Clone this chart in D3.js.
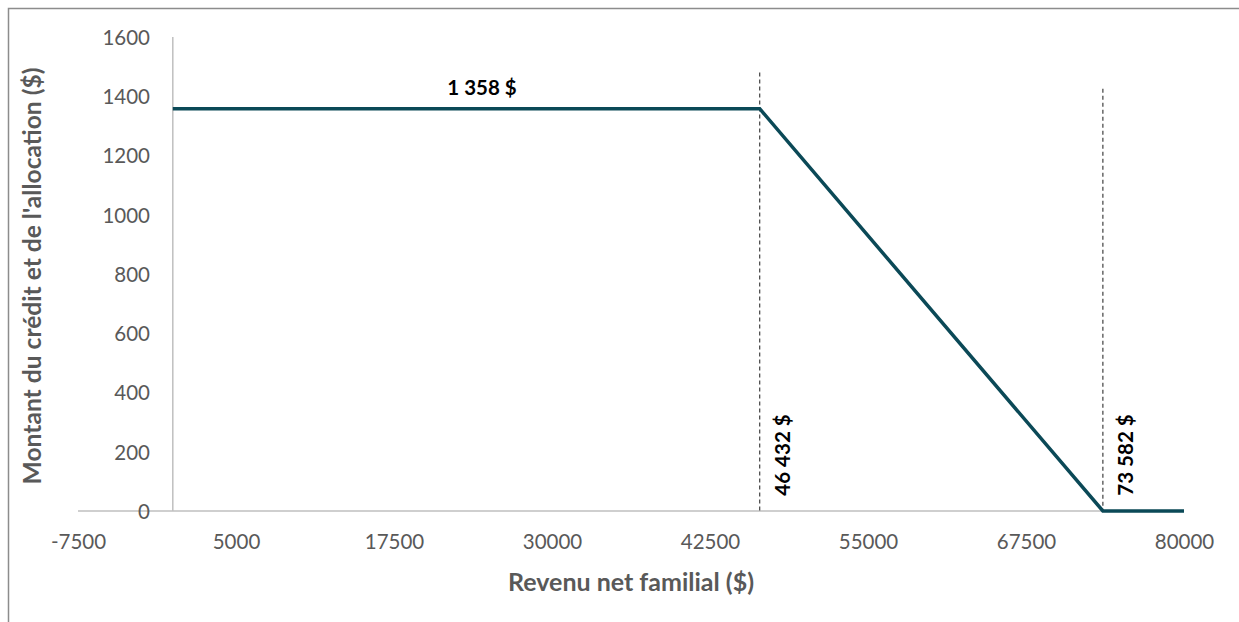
<!DOCTYPE html>
<html><head><meta charset="utf-8">
<script src="https://cdn.jsdelivr.net/npm/d3@7"></script>
<style>body{margin:0;background:#fff;} svg{display:block;}</style>
</head><body>
<script>
// Data
const incomes = [0, 46432, 73582, 80000];
const amounts = [1358, 1358, 0, 0];
const xTicks = [-7500, 5000, 17500, 30000, 42500, 55000, 67500, 80000];
const yTicks = [0, 200, 400, 600, 800, 1000, 1200, 1400, 1600];
const thresholds = [46432, 73582];
const thresholdLabels = ["46 432 $", "73 582 $"];
const thresholdTops = [1480, 1425];
const maxLabel = "1 358 $";
const xTitle = "Revenu net familial ($)";
const yTitle = "Montant du crédit et de l'allocation ($)";

const W = 1239, H = 622;
const font = "Lato, 'Open Sans', sans-serif";
const svg = d3.select("body").append("svg").attr("width", W).attr("height", H);

// outer frame
svg.append("rect").attr("x", 8.5).attr("y", 8.5).attr("width", W + 10).attr("height", H + 10)
  .attr("fill", "none").attr("stroke", "#8c8c8c").attr("stroke-width", 1.5);

const x = d3.scaleLinear().domain([-7500, 80000]).range([78, 1184]);
const y = d3.scaleLinear().domain([0, 1600]).range([511, 37]);
const fmt = d => String(d);

// axes lines
svg.append("line").attr("x1", x(-7500)).attr("x2", x(80000)).attr("y1", y(0)).attr("y2", y(0))
  .attr("stroke", "#bfbfbf").attr("stroke-width", 1.5);
svg.append("line").attr("x1", x(0)).attr("x2", x(0)).attr("y1", y(0)).attr("y2", y(1600))
  .attr("stroke", "#bfbfbf").attr("stroke-width", 1.5);

// x tick labels
const xAxis = d3.axisBottom(x).tickValues(xTicks).tickSize(0).tickPadding(0).tickFormat(fmt);
const gx = svg.append("g").attr("transform", `translate(0,${y(0)})`).call(xAxis);
gx.select(".domain").remove();
gx.selectAll("text").attr("dy", null).attr("y", 38).attr("font-family", font).attr("font-size", 20.5).attr("fill", "#595959");

// y tick labels
const yAxis = d3.axisLeft(y).tickValues(yTicks).tickSize(0).tickPadding(0).tickFormat(fmt);
const gy = svg.append("g").attr("transform", `translate(150,0)`).call(yAxis);
gy.select(".domain").remove();
gy.selectAll("text").attr("x", 0).attr("dy", "0.36em").attr("font-family", font).attr("font-size", 20.5).attr("fill", "#595959");

// threshold dashed lines
thresholds.forEach((t, i) => {
  svg.append("line").attr("x1", x(t)).attr("x2", x(t)).attr("y1", y(thresholdTops[i])).attr("y2", y(0))
    .attr("stroke", "#404040").attr("stroke-width", 1.2).attr("stroke-dasharray", "4,3");
});

// data line
const pts = incomes.map((v, i) => [v, amounts[i]]);
svg.append("path").datum(pts)
  .attr("d", d3.line().x(d => x(d[0])).y(d => y(d[1])))
  .attr("fill", "none").attr("stroke", "#0b4957").attr("stroke-width", 3.5).attr("stroke-linejoin", "miter");

// annotations
svg.append("text").attr("x", 482).attr("y", y(1358) - 14).attr("text-anchor", "middle")
  .attr("font-family", font).attr("font-weight", "bold").attr("font-size", 20.5).attr("fill", "#000").text(maxLabel);
thresholds.forEach((t, i) => {
  svg.append("text").attr("transform", `translate(${x(t) + 30},455) rotate(-90)`).attr("text-anchor", "middle")
    .attr("font-family", font).attr("font-weight", "bold").attr("font-size", 20.5).attr("fill", "#000").text(thresholdLabels[i]);
});

// titles
svg.append("text").attr("x", (x(-7500) + x(80000)) / 2).attr("y", 591).attr("text-anchor", "middle")
  .attr("font-family", font).attr("font-weight", "bold").attr("font-size", 25).attr("fill", "#595959").text(xTitle);
svg.append("text").attr("transform", `translate(41,276) rotate(-90)`).attr("text-anchor", "middle")
  .attr("font-family", font).attr("font-weight", "bold").attr("font-size", 24.6).attr("fill", "#595959").text(yTitle);
</script>
</body></html>
